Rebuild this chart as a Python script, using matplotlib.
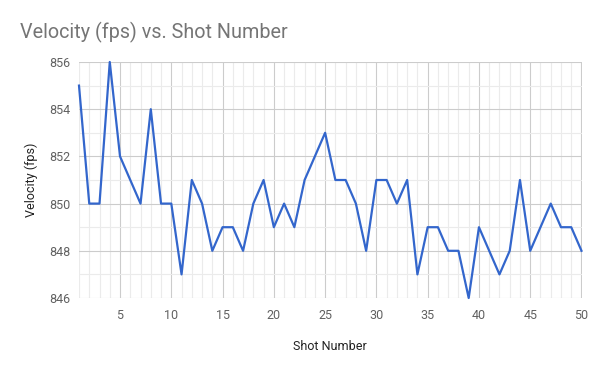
import numpy as np
import matplotlib.pyplot as plt
from matplotlib.ticker import MultipleLocator

plt.rcParams['font.family'] = ['Roboto', 'DejaVu Sans']

## DATA
shots = list(range(1, 51))
velocity = [855, 850, 850, 856, 852, 851, 850, 854, 850, 850,
            847, 851, 850, 848, 849, 849, 848, 850, 851, 849,
            850, 849, 851, 852, 853, 851, 851, 850, 848, 851,
            851, 850, 851, 847, 849, 849, 848, 848, 846, 849,
            848, 847, 848, 851, 848, 849, 850, 849, 849, 848]
x_ticks = [5, 10, 15, 20, 25, 30, 35, 40, 45, 50]
y_ticks = [846, 848, 850, 852, 854, 856]

fig = plt.figure(figsize=(6, 3.71), dpi=100)
ax = fig.add_axes([79 / 600, 1 - 298 / 371, (581.5 - 79) / 600, (298 - 62) / 371])

ax.plot(shots, velocity, color='#3366cc', lw=1.6, zorder=3, clip_on=False)

ax.set_xlim(1, 50)
ax.set_ylim(846, 856)
ax.set_xticks(x_ticks)
ax.set_yticks(y_ticks)
ax.xaxis.set_minor_locator(MultipleLocator(1))
ax.yaxis.set_minor_locator(MultipleLocator(1))
ax.grid(True, which='major', color='#cccccc', lw=0.8)
ax.grid(True, which='minor', color='#ebebeb', lw=0.8)
ax.set_axisbelow(True)

for s in ax.spines.values():
    s.set_visible(False)

ax.tick_params(which='both', length=0)
ax.tick_params(axis='x', pad=8, labelsize=9, labelcolor='#616161')
ax.tick_params(axis='y', pad=6, labelsize=9, labelcolor='#616161')

ax.set_xlabel('Shot Number', fontsize=9, color='#222222', labelpad=13)
ax.set_ylabel('Velocity (fps)', fontsize=9, color='#222222', labelpad=8)

fig.text(20 / 600, 1 - 32 / 371, 'Velocity (fps) vs. Shot Number', fontsize=14.2,
         color='#757575', va='center', ha='left')

fig.savefig('out.png', dpi=100)
